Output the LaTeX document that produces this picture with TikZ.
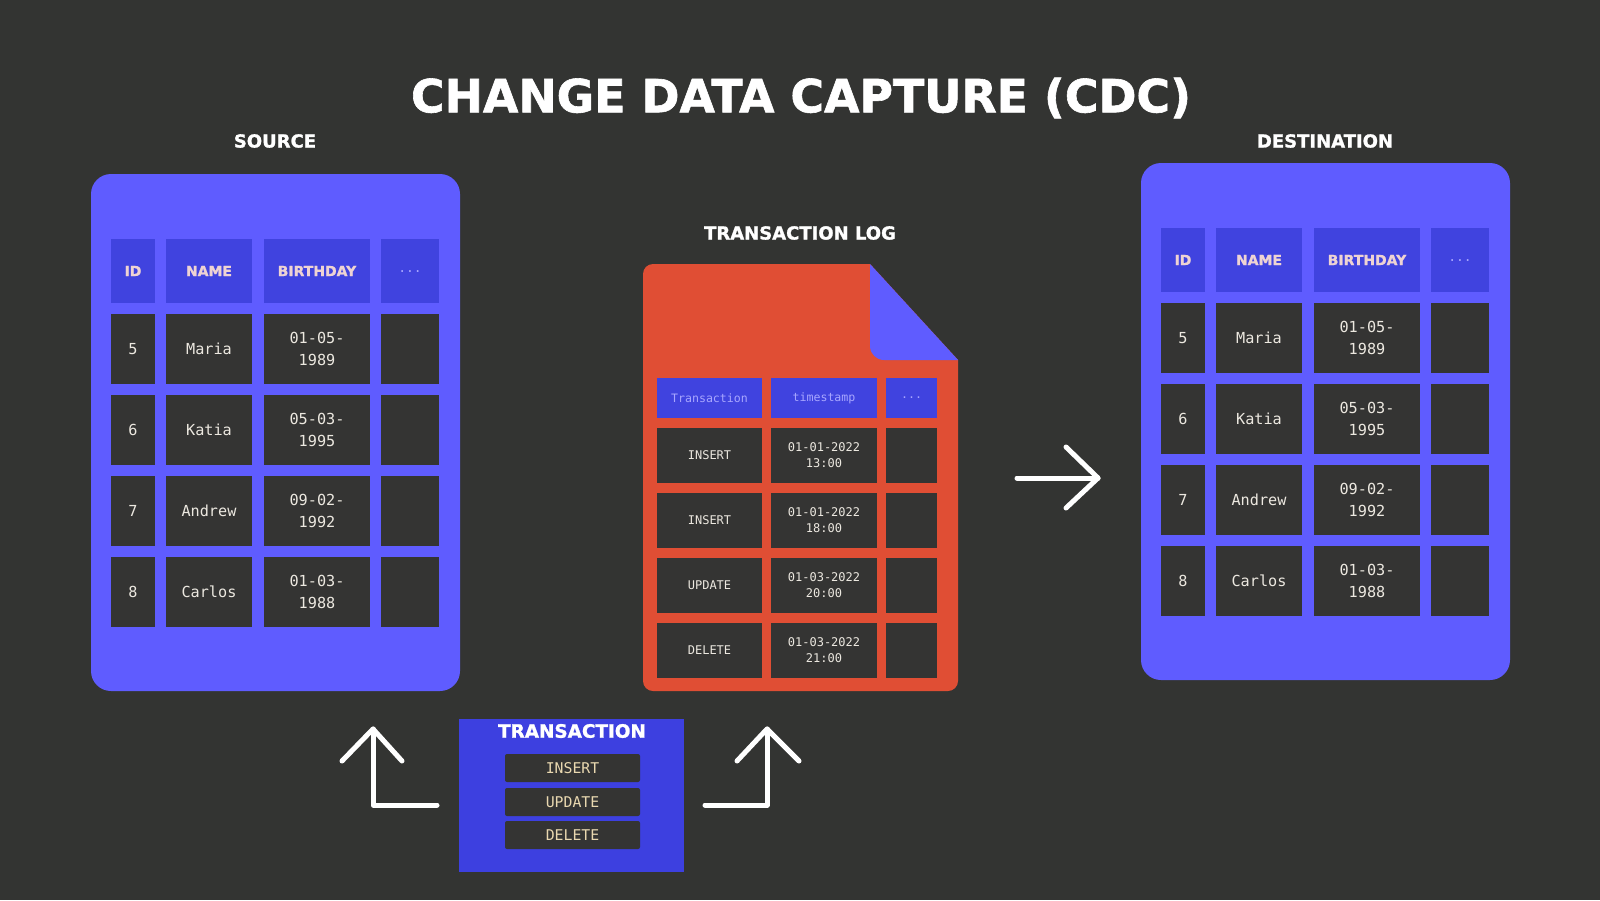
\documentclass[tikz,border=0pt]{standalone}
\usepackage{fontspec}
\setmainfont{DejaVu Sans}
\setmonofont{DejaVu Sans Mono}
\newfontfamily\heavyfont{DejaVu Sans}[UprightFont=*-Bold, UprightFeatures={FakeBold=1.3}]
\usetikzlibrary{calc}
\definecolor{bg}{HTML}{333432}
\definecolor{panel}{HTML}{5F5CFF}
\definecolor{hdrblue}{HTML}{4043DF}
\definecolor{darkcell}{HTML}{343433}
\definecolor{logred}{HTML}{E04E34}
\definecolor{tboxblue}{HTML}{3D40E0}
\definecolor{hdrtxt}{HTML}{EED3D3}
\definecolor{celltxt}{HTML}{ECE8E0}
\definecolor{dotstxt}{HTML}{A8A6FF}
\definecolor{btntxt}{HTML}{E9D8B0}
\newcommand\cellnode[7]{%
  \pgfmathsetmacro\cw{(#5-#3)*0.5}\pgfmathsetmacro\ch{(#6-#4)*0.5}%
  \node[#2, minimum width=\cw pt, minimum height=\ch pt] (#1) at ({(#3+#5)/2},{(#4+#6)/2}) {#7};}
\tikzset{
  panelbox/.style={fill=panel, rounded corners=10pt, inner sep=0},
  hdr/.style={fill=hdrblue, inner sep=0, text=hdrtxt, font=\heavyfont\fontsize{7}{8}\selectfont},
  hdrdots/.style={fill=hdrblue, inner sep=0, text=dotstxt, font=\ttfamily\fontsize{6.5}{7}\selectfont},
  dcell/.style={fill=darkcell, inner sep=0, text=celltxt, font=\ttfamily\fontsize{7.6}{10.7}\selectfont, align=center},
  lhdr/.style={fill=hdrblue, inner sep=0, text=dotstxt, font=\ttfamily\fontsize{5.8}{7}\selectfont},
  lcell/.style={fill=darkcell, inner sep=0, text=celltxt, font=\ttfamily\fontsize{6}{8}\selectfont, align=center},
  btn/.style={fill=darkcell, inner sep=0, rounded corners=1pt, text=btntxt, font=\ttfamily\fontsize{7.4}{8}\selectfont},
  label/.style={text=white, font=\heavyfont\fontsize{9}{10}\selectfont, inner sep=0},
  wline/.style={draw=white, line width=2.5pt, line cap=round, line join=round},
}
\newcommand\dbtable[1]{%
  \node[panelbox, minimum width=184.5pt, minimum height=258.5pt] (#1panel) at (275.5,432.5) {};
  \cellnode{#1hid}{hdr}{111}{239}{155}{303}{ID}
  \cellnode{#1hname}{hdr}{166}{239}{252}{303}{NAME}
  \cellnode{#1hbirth}{hdr}{264}{239}{370}{303}{BIRTHDAY}
  \cellnode{#1hmore}{hdrdots}{381}{239}{439}{303}{\raisebox{-1.2pt}{...}}
  \foreach \i/\id/\nm/\bd in {0/5/Maria/{01-05-\\1989},1/6/Katia/{05-03-\\1995},2/7/Andrew/{09-02-\\1992},3/8/Carlos/{01-03-\\1988}}{
    \pgfmathsetmacro\ya{314+81*\i}\pgfmathsetmacro\yb{384+81*\i}
    \cellnode{#1id\i}{dcell}{111}{\ya}{155}{\yb}{\id}
    \cellnode{#1nm\i}{dcell}{166}{\ya}{252}{\yb}{\nm}
    \cellnode{#1bd\i}{dcell}{264}{\ya}{370}{\yb}{\bd}
    \cellnode{#1mo\i}{dcell}{381}{\ya}{439}{\yb}{}
  }}
\begin{document}
\begin{tikzpicture}[x=0.5pt,y=-0.5pt]
\fill[bg] (0,0) rectangle (1600,900);
\useasboundingbox (0,0) rectangle (1600,900);

\node[text=white, inner sep=0] (title) at (801,98) {\resizebox{390pt}{!}{\heavyfont CHANGE DATA CAPTURE (CDC)}};
\node[label] (srclbl) at (275,141) {SOURCE};
\node[label] (dstlbl) at (1325,141) {DESTINATION};
\node[label] (loglbl) at (800,233) {TRANSACTION LOG};

% source table
\dbtable{s}
% destination table
\begin{scope}[shift={(1050,-11)}]
\dbtable{d}
\end{scope}

% transaction log document
\fill[logred] (643,274) [rounded corners=5pt] -- (643,691) -- (958,691) [sharp corners] -- (958,360) -- (870,264) [rounded corners=5pt] -- (643,264) [sharp corners] -- cycle;
\fill[panel] (870,264) [rounded corners=7pt] -- (870,360) [sharp corners] -- (958,360) -- cycle;
\cellnode{lhtr}{lhdr}{657}{378}{762}{418}{Transaction}
\cellnode{lhts}{lhdr}{771}{378}{877}{418}{timestamp}
\cellnode{lhmo}{lhdr}{886}{378}{937}{418}{...}
\foreach \i/\op/\ts in {0/INSERT/{01-01-2022\\13:00},1/INSERT/{01-01-2022\\18:00},2/UPDATE/{01-03-2022\\20:00},3/DELETE/{01-03-2022\\21:00}}{
  \pgfmathsetmacro\ya{428+65*\i}\pgfmathsetmacro\yb{483+65*\i}
  \cellnode{lop\i}{lcell}{657}{\ya}{762}{\yb}{\op}
  \cellnode{lts\i}{lcell}{771}{\ya}{877}{\yb}{\ts}
  \cellnode{lmo\i}{lcell}{886}{\ya}{937}{\yb}{}
}

% transaction box
\cellnode{tbox}{fill=tboxblue, inner sep=0}{459}{719}{684}{872}{}
\node[label, font=\heavyfont\fontsize{9.2}{10}\selectfont] (tboxtitle) at (572,731) {TRANSACTION};
\cellnode{tins}{btn}{505}{754}{640}{782}{INSERT}
\cellnode{tupd}{btn}{505}{788}{640}{816}{UPDATE}
\cellnode{tdel}{btn}{505}{821}{640}{849}{DELETE}

% arrows
\coordinate (la0) at (437,805);
\coordinate (la1) at (373,805);
\coordinate (la2) at (373,729);
\coordinate (lal) at (342,761);
\coordinate (lar) at (402,761);
\draw[wline] (la0) -- (la1) -- (la2);
\draw[wline] (lal) -- (la2) -- (lar);

\coordinate (ra0) at (705,805);
\coordinate (ra1) at (767,805);
\coordinate (ra2) at (767,729);
\coordinate (ral) at (737,761);
\coordinate (rar) at (799,761);
\draw[wline] (ra0) -- (ra1) -- (ra2);
\draw[wline] (ral) -- (ra2) -- (rar);

\coordinate (ma0) at (1017,478);
\coordinate (ma1) at (1098,478);
\coordinate (mat) at (1066,447);
\coordinate (mab) at (1066,508);
\draw[wline] (ma0) -- (ma1);
\draw[wline] (mat) -- (ma1) -- (mab);
\end{tikzpicture}
\end{document}
